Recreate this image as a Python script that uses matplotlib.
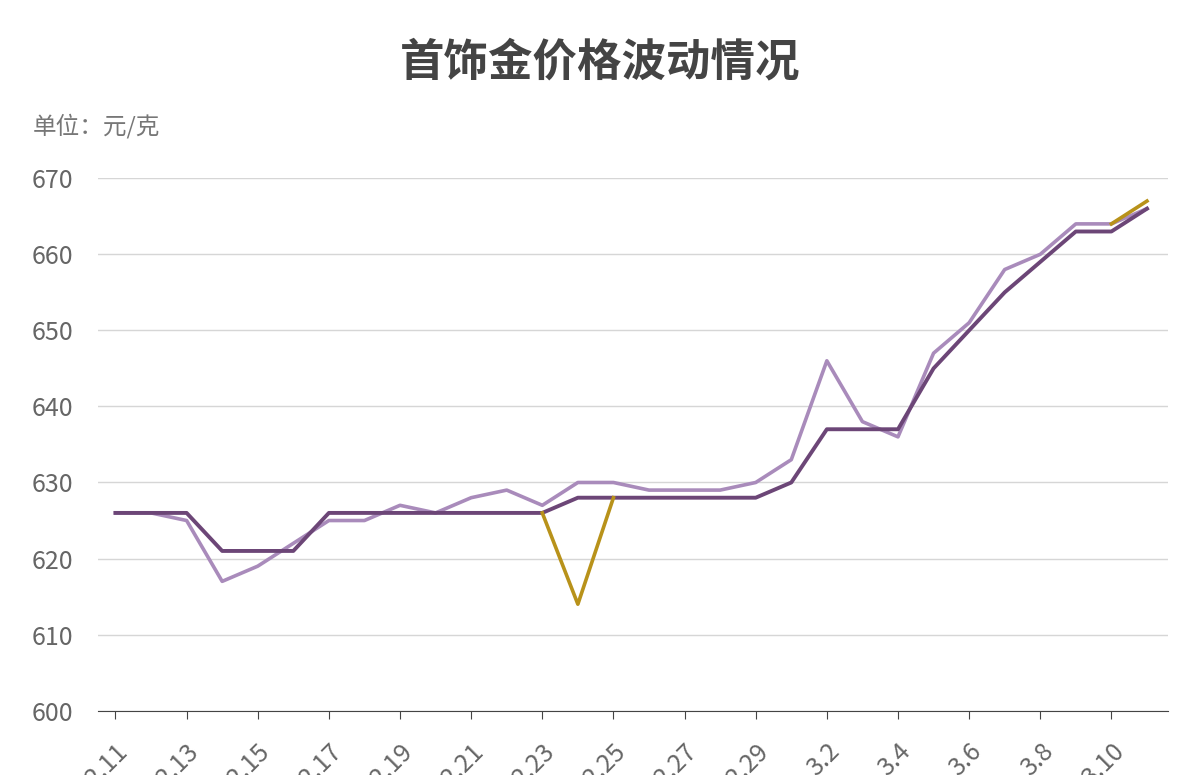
import matplotlib
matplotlib.use("Agg")
import matplotlib.pyplot as plt
import numpy as np

plt.rcParams['font.family'] = ['Noto Sans CJK SC', 'DejaVu Sans']

dates = [f"2.{d}" for d in range(11, 30)] + [f"3.{d}" for d in range(1, 12)]
light = [626,626,625,617,619,622,625,625,627,626,628,629,627,630,630,629,629,629,630,633,646,638,636,647,651,658,660,664,664,666]
dark = [626,626,626,621,621,621,626,626,626,626,626,626,626,628,628,628,628,628,628,630,637,637,637,645,650,655,659,663,663,666]
gold = [np.nan]*12 + [626,614,628] + [np.nan]*13 + [664,667]

fig = plt.figure(figsize=(12, 7.75), dpi=100)
ax = fig.add_axes([0.082, 0.083, 0.891, 0.687])
x = np.arange(len(dates))
ax.plot(x, light, color='#a98bbb', lw=2.6)
ax.plot(x, dark, color='#6c4677', lw=2.8)
ax.plot(x, gold, color='#b8921a', lw=2.6)

ax.set_ylim(600, 670)
ax.set_xlim(-0.48, 29.58)
ax.set_yticks(range(600, 671, 10))
ax.set_xticks(x[::2])
ax.set_xticklabels(dates[::2], rotation=45, ha='right', rotation_mode='anchor')
ax.grid(axis='y', color='#d6d6d6', lw=1)
for s in ['top', 'right', 'left']:
    ax.spines[s].set_visible(False)
ax.spines['bottom'].set_color('#444444')
ax.tick_params(axis='y', length=0, labelsize=18, labelcolor='#666666', pad=18)
ax.tick_params(axis='x', length=6, color='#444444', labelsize=18, labelcolor='#666666', pad=14)
ax.set_axisbelow(True)

fig.text(0.5, 0.92, '首饰金价格波动情况', ha='center', va='center', fontsize=32,
         fontweight='bold', color='#444444')
fig.text(0.027, 0.837, '单位：元/克', ha='left', va='center', fontsize=17, color='#777777')
fig.savefig('out.png', dpi=100)
